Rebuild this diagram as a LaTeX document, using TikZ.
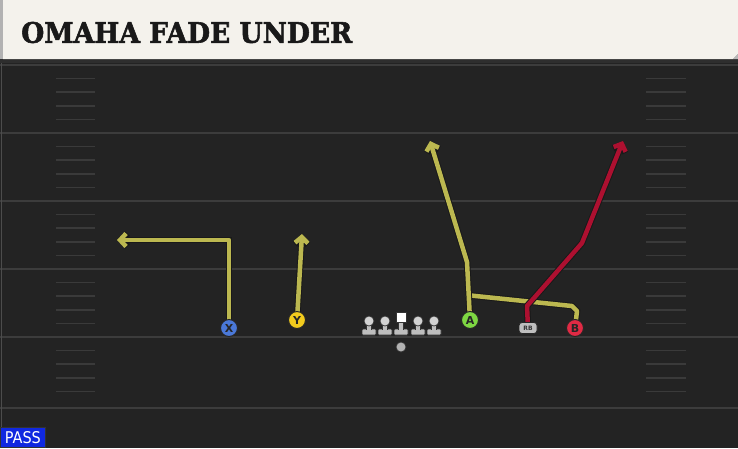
\documentclass[tikz,border=0pt]{standalone}
\usepackage{fontspec}
\usepackage{graphicx}
\usetikzlibrary{arrows.meta}
\newfontfamily\titlefont[BoldFeatures={FakeBold=2}]{DejaVu Serif}
\newfontfamily\labfont{DejaVu Sans}
\definecolor{fieldbg}{RGB}{35,35,35}
\definecolor{lineg}{RGB}{60,60,60}
\definecolor{hashg}{RGB}{58,58,58}
\definecolor{titlebg}{RGB}{244,242,236}
\definecolor{routeyel}{RGB}{188,184,80}
\definecolor{routered}{RGB}{173,16,48}
\definecolor{xblue}{RGB}{74,120,216}
\definecolor{yyel}{RGB}{242,203,29}
\definecolor{agreen}{RGB}{126,215,66}
\definecolor{bred}{RGB}{224,42,68}
\definecolor{passblue}{RGB}{16,40,224}
\definecolor{olgray}{RGB}{190,190,190}
\begin{document}
\begin{tikzpicture}[x=1pt,y=-1pt,
  route/.style={draw=#1, line width=4.5pt, line join=round,
    preaction={draw=black!90, line width=6.5pt}},
  tip/.style={-{Straight Barb[length=6pt,width=13pt]}},
  player/.style={circle, draw=black!85, line width=1pt, minimum size=17pt, inner sep=0pt,
    font=\labfont\bfseries\fontsize{11}{11}\selectfont, text=black!85},
  rbbox/.style={rectangle, rounded corners=3pt, draw=black!85, line width=0.8pt, fill=olgray,
    minimum width=18pt, minimum height=11pt, inner sep=0pt,
    font=\labfont\bfseries\fontsize{6}{6}\selectfont, text=black!80},
  yardline/.style={draw=lineg, line width=2pt},
  hashmark/.style={draw=hashg, line width=1.6pt},
  lineman/.pic={
    \fill[olgray, draw=black!80, line width=0.7pt, rounded corners=1pt] (-7,8) rectangle (7,14);
    \fill[olgray, draw=black!80, line width=0.7pt] (-2.5,2) rectangle (2.5,8.5);
    \fill[olgray] (-1.9,1) rectangle (1.9,9);
    \fill[olgray!70!white, draw=black!80, line width=0.7pt] (0,0) circle (5);
  },
  centerman/.pic={
    \fill[olgray, draw=black!80, line width=0.7pt, rounded corners=1pt] (-7,8) rectangle (7,14);
    \fill[olgray, draw=black!80, line width=0.7pt] (-2.5,1) rectangle (2.5,8.5);
    \fill[olgray] (-1.9,0) rectangle (1.9,9);
    \fill[white, draw=black!80, line width=0.7pt] (-5,-8.5) rectangle (5,1.5);
  }
]
\useasboundingbox (0,0) rectangle (738,448);
\fill[fieldbg] (0,0) rectangle (738,448);
% yard lines
\foreach \yy in {65,133,201,269,337,408} {
  \draw[yardline] (0,\yy) -- (738,\yy);
}
% hash marks
\foreach \yy in {65,133,201,269,337} {
  \foreach \k in {1,2,3,4} {
    \draw[hashmark] (56,\yy+13.6*\k) -- (95,\yy+13.6*\k);
    \draw[hashmark] (646,\yy+13.6*\k) -- (686,\yy+13.6*\k);
  }
}
\draw[draw=black!70, line width=1pt] (1,63) -- (1,448);
% title bar
\fill[black!82] (0,56) rectangle (738,63);
\fill[titlebg] (3,0) -- (738,0) -- (738,54) -- (733,59) -- (3,59) -- cycle;
\fill[gray!55] (733,59) -- (738,54) -- (738,59) -- cycle;
\fill[gray!60] (0,0) rectangle (3,59);
\node[anchor=west, inner sep=0pt, text=black!90] (title) at (21,32.5)
  {\resizebox{331pt}{21pt}{\titlefont\bfseries OMAHA FADE UNDER}};
% player positions
\coordinate (Xc) at (229,328);
\coordinate (Yc) at (297,320);
\coordinate (Ac) at (470,320);
\coordinate (Bc) at (575,328);
\coordinate (RBc) at (528,328);
% route waypoints
\coordinate (x1) at (229,240);
\coordinate (xend) at (117,240);
\coordinate (yend) at (302,234);
\coordinate (a1) at (467,262);
\coordinate (aend) at (430,141);
\coordinate (b1) at (577,311);
\coordinate (b2) at (572,306);
\coordinate (bend) at (466,295);
\coordinate (r1) at (527,306);
\coordinate (r2) at (582,243);
\coordinate (rend) at (623,141);
% routes
\draw[route=routeyel, tip] (Xc) -- (x1) -- (xend);
\draw[route=routeyel, tip] (Yc) -- (yend);
\draw[route=routeyel] (Bc) -- (b1) -- (b2) -- (bend);
\draw[route=routeyel, tip] (Ac) -- (a1) -- (aend);
\draw[route=routered, tip] (RBc) -- (r1) -- (r2) -- (rend);
% line
\pic at (369,321) {lineman};
\pic at (385,321) {lineman};
\pic at (401,321) {centerman};
\pic at (418,321) {lineman};
\pic at (434,321) {lineman};
\node[circle, fill=gray!60, draw=black!80, line width=0.7pt, minimum size=10pt, inner sep=0pt] (ball) at (401,347) {};
% players
\node[player, fill=xblue] (X) at (Xc) {X};
\node[player, fill=yyel] (Y) at (Yc) {Y};
\node[player, fill=agreen] (A) at (Ac) {A};
\node[player, fill=bred] (B) at (Bc) {B};
\node[rbbox] (RB) at (RBc) {RB};
% pass label
\node[fill=passblue, draw=black!80, line width=0.8pt, anchor=south west, minimum width=45pt,
  minimum height=20pt, inner sep=0pt, text=white] (pass) at (0,448)
  {\resizebox{36pt}{12pt}{\labfont PASS}};
\end{tikzpicture}
\end{document}
